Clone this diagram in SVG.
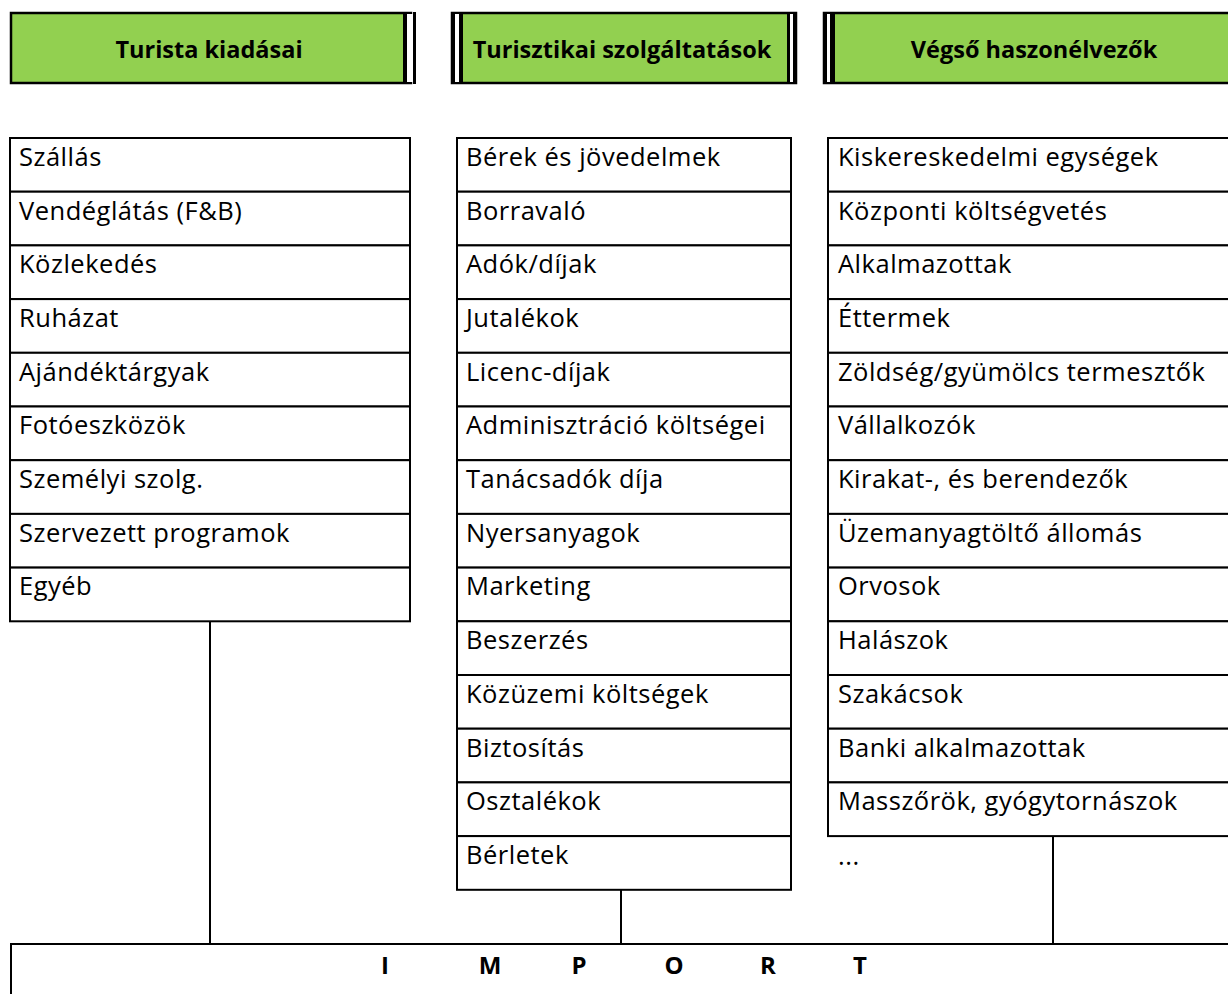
<svg xmlns="http://www.w3.org/2000/svg" width="1228" height="994" viewBox="0 0 1228 994">
<style>
.hdr{fill:#92D050;stroke:#000;stroke-width:2.5}
.dl{fill:#000}
.dw{fill:#fff}
.ht{font-family:"Open Sans","Liberation Sans",Arial,sans-serif;font-weight:bold;font-size:23.5px;fill:#000;text-anchor:middle}
.cell{fill:#fff;stroke:#000;stroke-width:2}
.t{font-family:"Open Sans","Liberation Sans",Arial,sans-serif;font-size:25.5px;letter-spacing:0.5px;fill:#000}
.imp{font-family:"Open Sans","Liberation Sans",Arial,sans-serif;font-weight:bold;font-size:24px;fill:#000;text-anchor:middle}
.ln{stroke:#000;stroke-width:2;fill:none}
</style>

<g id="header-turista">
<rect class="hdr" x="11" y="13" width="400" height="70"/>
<rect class="dl" x="403" y="12" width="4" height="72"/>
<rect class="dw" x="407" y="14" width="6" height="68"/>
<rect class="dl" x="413" y="12" width="3" height="72"/>
<text class="ht" x="209" y="58">Turista kiadásai</text>
</g>

<g id="header-szolgaltatasok">
<rect class="hdr" x="452" y="13" width="344" height="70"/>
<rect class="dl" x="451" y="12" width="4" height="72"/>
<rect class="dw" x="455" y="14" width="4" height="68"/>
<rect class="dl" x="459" y="12" width="4" height="72"/>
<rect class="dl" x="787" y="12" width="3" height="72"/>
<rect class="dw" x="790" y="14" width="3" height="68"/>
<rect class="dl" x="793" y="12" width="4" height="72"/>
<text class="ht" x="622" y="58">Turisztikai szolgáltatások</text>
</g>

<g id="header-haszonelvezok">
<rect class="hdr" x="824" y="13" width="410" height="70"/>
<rect class="dl" x="823" y="12" width="4" height="72"/>
<rect class="dw" x="827" y="14" width="3" height="68"/>
<rect class="dl" x="830" y="12" width="5" height="72"/>
<text class="ht" x="1034" y="58">Végső haszonélvezők</text>
</g>

<g id="list-turista">
<rect class="cell" x="10" y="138" width="400" height="53.7"/><text class="t" x="19" y="166">Szállás</text>
<rect class="cell" x="10" y="191.7" width="400" height="53.7"/><text class="t" x="19" y="219.5">Vendéglátás (F&amp;B)</text>
<rect class="cell" x="10" y="245.4" width="400" height="53.7"/><text class="t" x="19" y="273">Közlekedés</text>
<rect class="cell" x="10" y="299.1" width="400" height="53.7"/><text class="t" x="19" y="327">Ruházat</text>
<rect class="cell" x="10" y="352.8" width="400" height="53.7"/><text class="t" x="19" y="380.5">Ajándéktárgyak</text>
<rect class="cell" x="10" y="406.5" width="400" height="53.7"/><text class="t" x="19" y="434">Fotóeszközök</text>
<rect class="cell" x="10" y="460.2" width="400" height="53.7"/><text class="t" x="19" y="488">Személyi szolg.</text>
<rect class="cell" x="10" y="513.9" width="400" height="53.7"/><text class="t" x="19" y="541.5">Szervezett programok</text>
<rect class="cell" x="10" y="567.6" width="400" height="53.7"/><text class="t" x="19" y="595">Egyéb</text>
</g>

<g id="list-szolgaltatasok">
<rect class="cell" x="457" y="138" width="334" height="53.7"/><text class="t" x="466" y="166">Bérek és jövedelmek</text>
<rect class="cell" x="457" y="191.7" width="334" height="53.7"/><text class="t" x="466" y="219.5">Borravaló</text>
<rect class="cell" x="457" y="245.4" width="334" height="53.7"/><text class="t" x="466" y="273">Adók/díjak</text>
<rect class="cell" x="457" y="299.1" width="334" height="53.7"/><text class="t" x="466" y="327">Jutalékok</text>
<rect class="cell" x="457" y="352.8" width="334" height="53.7"/><text class="t" x="466" y="380.5">Licenc-díjak</text>
<rect class="cell" x="457" y="406.5" width="334" height="53.7"/><text class="t" x="466" y="434">Adminisztráció költségei</text>
<rect class="cell" x="457" y="460.2" width="334" height="53.7"/><text class="t" x="466" y="488">Tanácsadók díja</text>
<rect class="cell" x="457" y="513.9" width="334" height="53.7"/><text class="t" x="466" y="541.5">Nyersanyagok</text>
<rect class="cell" x="457" y="567.6" width="334" height="53.7"/><text class="t" x="466" y="595">Marketing</text>
<rect class="cell" x="457" y="621.3" width="334" height="53.7"/><text class="t" x="466" y="649">Beszerzés</text>
<rect class="cell" x="457" y="675" width="334" height="53.7"/><text class="t" x="466" y="702.5">Közüzemi költségek</text>
<rect class="cell" x="457" y="728.7" width="334" height="53.7"/><text class="t" x="466" y="756.5">Biztosítás</text>
<rect class="cell" x="457" y="782.4" width="334" height="53.7"/><text class="t" x="466" y="810">Osztalékok</text>
<rect class="cell" x="457" y="836.1" width="334" height="53.7"/><text class="t" x="466" y="864">Bérletek</text>
</g>

<g id="list-haszonelvezok">
<rect class="cell" x="828" y="138" width="410" height="53.7"/><text class="t" x="838" y="166">Kiskereskedelmi egységek</text>
<rect class="cell" x="828" y="191.7" width="410" height="53.7"/><text class="t" x="838" y="219.5">Központi költségvetés</text>
<rect class="cell" x="828" y="245.4" width="410" height="53.7"/><text class="t" x="838" y="273">Alkalmazottak</text>
<rect class="cell" x="828" y="299.1" width="410" height="53.7"/><text class="t" x="838" y="327">Éttermek</text>
<rect class="cell" x="828" y="352.8" width="410" height="53.7"/><text class="t" x="838" y="380.5">Zöldség/gyümölcs termesztők</text>
<rect class="cell" x="828" y="406.5" width="410" height="53.7"/><text class="t" x="838" y="434">Vállalkozók</text>
<rect class="cell" x="828" y="460.2" width="410" height="53.7"/><text class="t" x="838" y="488">Kirakat-, és berendezők</text>
<rect class="cell" x="828" y="513.9" width="410" height="53.7"/><text class="t" x="838" y="541.5">Üzemanyagtöltő állomás</text>
<rect class="cell" x="828" y="567.6" width="410" height="53.7"/><text class="t" x="838" y="595">Orvosok</text>
<rect class="cell" x="828" y="621.3" width="410" height="53.7"/><text class="t" x="838" y="649">Halászok</text>
<rect class="cell" x="828" y="675" width="410" height="53.7"/><text class="t" x="838" y="702.5">Szakácsok</text>
<rect class="cell" x="828" y="728.7" width="410" height="53.7"/><text class="t" x="838" y="756.5">Banki alkalmazottak</text>
<rect class="cell" x="828" y="782.4" width="410" height="53.7"/><text class="t" x="838" y="810">Masszőrök, gyógytornászok</text>
<text class="t" x="838" y="865">...</text>
</g>

<g id="connectors">
<line class="ln" x1="210" y1="621.3" x2="210" y2="944"/>
<line class="ln" x1="621" y1="889.8" x2="621" y2="944"/>
<line class="ln" x1="1053" y1="836.1" x2="1053" y2="944"/>
</g>

<g id="import">
<rect class="cell" x="11" y="944" width="1230" height="60"/>
<text class="imp" x="385" y="974">I</text>
<text class="imp" x="490" y="974">M</text>
<text class="imp" x="579" y="974">P</text>
<text class="imp" x="674" y="974">O</text>
<text class="imp" x="768" y="974">R</text>
<text class="imp" x="860" y="974">T</text>
</g>
</svg>
